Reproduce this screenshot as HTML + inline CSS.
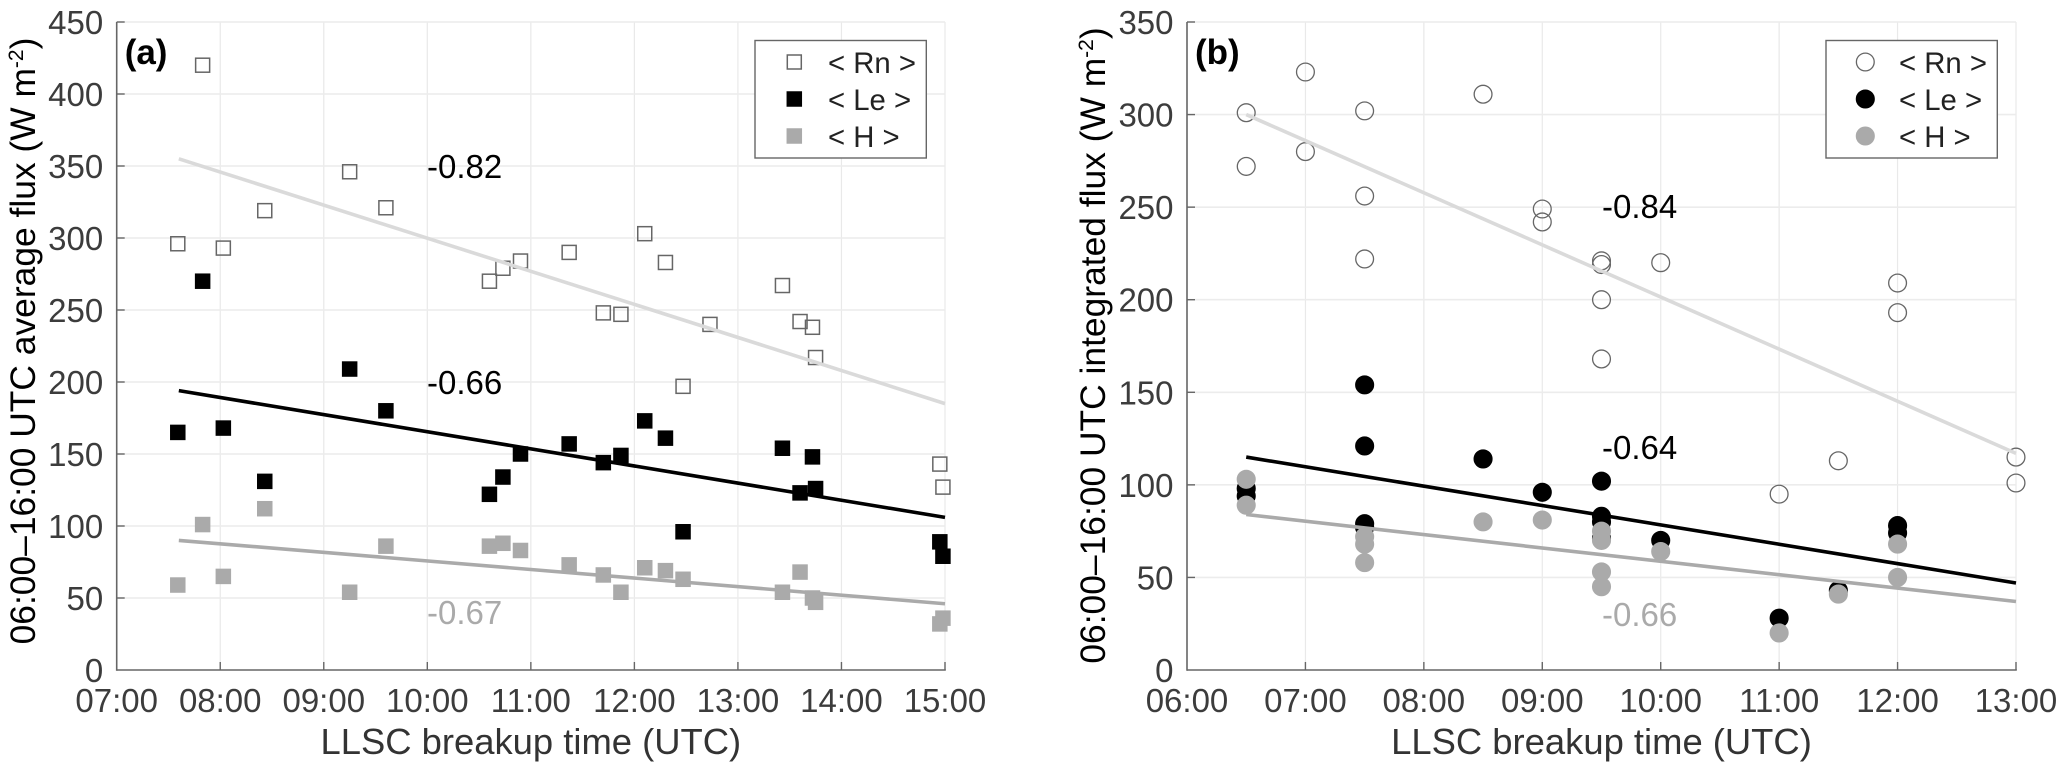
<!DOCTYPE html>
<html>
<head>
<meta charset="utf-8">
<title>Surface energy flux vs LLSC breakup time</title>
<style>
html,body{margin:0;padding:0;background:#fff;}
svg{display:block;font-family:"Liberation Sans",Arial,sans-serif;}
</style>
</head>
<body>
<svg id="fig" xmlns="http://www.w3.org/2000/svg" width="2067" height="764" viewBox="0 0 2067 764"></svg>
<script>
// Panel (a)
const aXTickLabels = ["07:00","08:00","09:00","10:00","11:00","12:00","13:00","14:00","15:00"];
const aYTicks = [0,50,100,150,200,250,300,350,400,450];
const aRnX = [7.59,7.83,8.03,8.43,9.25,9.6,10.6,10.73,10.9,11.37,11.7,11.87,12.1,12.3,12.47,12.73,13.43,13.6,13.72,13.75,14.95,14.98];
const aRn  = [296,420,293,319,346,321,270,279,284,290,248,247,303,283,197,240,267,242,238,217,143,127];
const aLeX = [7.59,7.83,8.03,8.43,9.25,9.6,10.6,10.73,10.9,11.37,11.7,11.87,12.1,12.3,12.47,13.43,13.6,13.72,13.75,14.95,14.98];
const aLe  = [165,270,168,131,209,180,122,134,150,157,144,149,173,161,96,154,123,148,126,89,79];
const aHX  = [7.59,7.83,8.03,8.43,9.25,9.6,10.6,10.73,10.9,11.37,11.7,11.87,12.1,12.3,12.47,13.43,13.6,13.72,13.75,14.95,14.98];
const aH   = [59,101,65,112,54,86,86,88,83,73,66,54,71,69,63,54,68,50,47,32,36];
const aFitX = [7.6,15];
const aFitRn = [355,185];
const aFitLe = [194,106];
const aFitH = [90,46];

// Panel (b)
const bXTickLabels = ["06:00","07:00","08:00","09:00","10:00","11:00","12:00","13:00"];
const bYTicks = [0,50,100,150,200,250,300,350];
const bRnX = [6.5,6.5,7,7,7.5,7.5,7.5,8.5,9,9,9.5,9.5,9.5,9.5,10,11,11.5,12,12,13,13];
const bRn  = [301,272,323,280,302,256,222,311,249,242,221,219,200,168,220,95,113,209,193,115,101];
const bLeX = [6.5,6.5,7.5,7.5,7.5,7.5,8.5,9,9.5,9.5,9.5,9.5,10,11,11.5,12,12];
const bLe  = [98,94,154,121,79,77,114,96,102,83,80,71,70,28,43,78,74];
const bHX  = [6.5,6.5,7.5,7.5,7.5,8.5,9,9.5,9.5,9.5,9.5,10,11,11.5,12,12];
const bH   = [103,89,72,68,58,80,81,75,70,53,45,64,20,41,68,50];
const bFitX = [6.5,13];
const bFitRn = [300,117];
const bFitLe = [115,47];
const bFitH = [84,37];

const NS = "http://www.w3.org/2000/svg";
const svg = document.getElementById("fig");
const TOP = 22, BOTTOM = 670;

function mk(tag, attrs, parent, text){
  const e = document.createElementNS(NS, tag);
  for (const k in attrs) e.setAttribute(k, attrs[k]);
  if (text !== undefined) e.textContent = text;
  (parent || svg).appendChild(e);
  return e;
}

function hourOf(label){
  return parseInt(label.slice(0,2), 10) + parseInt(label.slice(3,5), 10) / 60;
}

function drawMarker(g, shape, px, py, fill, stroke){
  let m;
  if (shape === "square") {
    m = mk("rect", {x:px-7, y:py-7, width:14, height:14, fill:fill, stroke:stroke, "stroke-width":1.5}, g);
  } else {
    m = mk("circle", {cx:px, cy:py, r:8.9, fill:fill, stroke:stroke, "stroke-width":1.3}, g);
  }
  return m;
}

function drawPanel(id, cfg){
  const L = cfg.left, R = cfg.right;
  const x0 = hourOf(cfg.xLabels[0]);
  const x1 = hourOf(cfg.xLabels[cfg.xLabels.length-1]);
  const y1 = cfg.yTicks[cfg.yTicks.length-1];
  const sx = h => L + (h - x0) / (x1 - x0) * (R - L);
  const sy = v => BOTTOM - v / y1 * (BOTTOM - TOP);

  const root = mk("g", {});
  
  

  const grid = mk("g", {}, root);
  
  
  cfg.xLabels.forEach(lab => {
    const px = sx(hourOf(lab));
    if (px > L + 1) mk("line", {x1:px, x2:px, y1:TOP, y2:BOTTOM, stroke:"#e9e9e9", "stroke-width":1.2}, grid);
  });
  cfg.yTicks.forEach(v => {
    const py = sy(v);
    if (v > 0) mk("line", {x1:L, x2:R, y1:py, y2:py, stroke:"#ececec", "stroke-width":1.6}, grid);
  });

  const series = [
    {name:"rn", x:cfg.rnX, y:cfg.rn, fill:"none", stroke:"#666666"},
    {name:"le", x:cfg.leX, y:cfg.le, fill:"#000000", stroke:"#000000"},
    {name:"h",  x:cfg.hX,  y:cfg.h,  fill:"#aaaaaa", stroke:"#aaaaaa"}
  ];
  series.forEach(s => {
    const g = mk("g", {}, root);
    
    
    s.y.forEach((v, i) => {
      const m = drawMarker(g, cfg.shape, sx(s.x[i]), sy(v), s.fill, s.stroke);
      
      
    });
  });

  const fits = [
    {name:"rn", y:cfg.fitRn, color:"#dadada"},
    {name:"le", y:cfg.fitLe, color:"#000000"},
    {name:"h",  y:cfg.fitH,  color:"#aaaaaa"}
  ];
  fits.forEach(f => {
    const ln = mk("line", {x1:sx(cfg.fitX[0]), x2:sx(cfg.fitX[1]), y1:sy(f.y[0]), y2:sy(f.y[1]), stroke:f.color, "stroke-width":3.6}, root);
    
    
  });

  const axes = mk("g", {}, root);
  
  
  mk("line", {x1:L, x2:L, y1:TOP, y2:BOTTOM+0.8, stroke:"#666", "stroke-width":1.6}, axes);
  mk("line", {x1:L, x2:R+0.8, y1:BOTTOM, y2:BOTTOM, stroke:"#666", "stroke-width":1.6}, axes);

  cfg.xLabels.forEach(lab => {
    const px = sx(hourOf(lab));
    if (px > L + 1) mk("line", {x1:px, x2:px, y1:BOTTOM, y2:BOTTOM-8, stroke:"#666", "stroke-width":1.4}, axes);
    const t = mk("text", {x:px, y:712, "text-anchor":"middle", "font-size":33, fill:"#3c3c3c"}, axes, lab);
    
    
  });
  cfg.yTicks.forEach(v => {
    const py = sy(v);
    if (v > 0) mk("line", {x1:L, x2:L+8, y1:py, y2:py, stroke:"#666", "stroke-width":1.4}, axes);
    const t = mk("text", {x:L-13.5, y:py+12, "text-anchor":"end", "font-size":33, fill:"#3c3c3c"}, axes, String(v));
    
    
  });

  const xt = mk("text", {x:(L+R)/2, y:754, "text-anchor":"middle", "font-size":36.4, fill:"#333"}, root, "LLSC breakup time (UTC)");
  
  

  const yt = mk("text", {transform:"translate(" + cfg.yTitleX + "," + cfg.yTitleY + ") rotate(-90)", "text-anchor":"middle", "font-size":35.4, fill:"#000"}, root);
  
  
  mk("tspan", {}, yt, cfg.yTitle + " (W m");
  mk("tspan", {dy:-12, "font-size":21}, yt, "-2");
  mk("tspan", {dy:12}, yt, ")");

  const pl = mk("text", {x:L+8, y:64, "font-size":35, "font-weight":"bold", fill:"#000"}, root, cfg.panelLabel);
  
  

  cfg.corr.forEach(c => {
    const t = mk("text", {x:cfg.corrX, y:c.y, "font-size":33, fill:c.color}, root, c.text);
    
    
  });

  // Legend
  const lg = mk("g", {}, root);
  
  
  mk("rect", {x:cfg.legX, y:40.5, width:171.3, height:117.5, fill:"#fff", stroke:"#666", "stroke-width":1.4}, lg);
  const legendRows = [
    {label:"< Rn >", y:62, fill:"#fff", stroke:"#666666", name:"rn"},
    {label:"< Le >", y:99, fill:"#000", stroke:"#000", name:"le"},
    {label:"< H >", y:136, fill:"#aaa", stroke:"#aaa", name:"h"}
  ];
  legendRows.forEach(r => {
    const e = mk("g", {}, lg);
    
    
    drawMarker(e, cfg.shape, cfg.legX + 39.3, r.y, r.fill, r.stroke);
    mk("text", {x:cfg.legX + 73, y:r.y + 11, "font-size":29.3, fill:"#222"}, e, r.label);
  });
}

drawPanel("a", {
  left:116.7, right:945, shape:"square", panelLabel:"(a)",
  xLabels:aXTickLabels, yTicks:aYTicks,
  rnX:aRnX, rn:aRn, leX:aLeX, le:aLe, hX:aHX, h:aH,
  fitX:aFitX, fitRn:aFitRn, fitLe:aFitLe, fitH:aFitH,
  yTitle:"06:00\u201316:00 UTC average flux", yTitleX:35, yTitleY:341,
  corrX:427, legX:755,
  corr:[
    {name:"rn", text:"-0.82", y:178, color:"#000"},
    {name:"le", text:"-0.66", y:394, color:"#000"},
    {name:"h", text:"-0.67", y:624, color:"#aaa"}
  ]
});
drawPanel("b", {
  left:1187, right:2016, shape:"circle", panelLabel:"(b)",
  xLabels:bXTickLabels, yTicks:bYTicks,
  rnX:bRnX, rn:bRn, leX:bLeX, le:bLe, hX:bHX, h:bH,
  fitX:bFitX, fitRn:bFitRn, fitLe:bFitLe, fitH:bFitH,
  yTitle:"06:00\u201316:00 UTC integrated flux", yTitleX:1105, yTitleY:345.5,
  corrX:1602, legX:1826,
  corr:[
    {name:"rn", text:"-0.84", y:218, color:"#000"},
    {name:"le", text:"-0.64", y:459, color:"#000"},
    {name:"h", text:"-0.66", y:626, color:"#aaa"}
  ]
});
</script>
</body>
</html>
